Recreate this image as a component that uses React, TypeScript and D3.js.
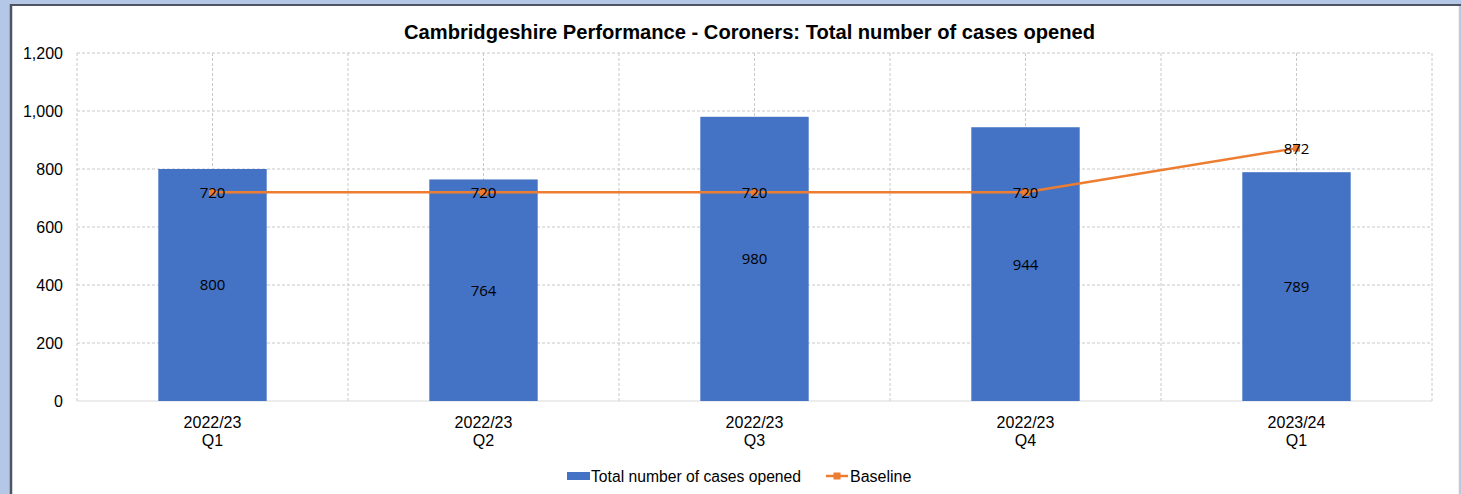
import React from "react";
import * as d3 from "d3";

const categories = ["2022/23|Q1", "2022/23|Q2", "2022/23|Q3", "2022/23|Q4", "2023/24|Q1"];
const casesOpened = [800, 764, 980, 944, 789];
const baseline = [720, 720, 720, 720, 872];
const yTicks = [0, 200, 400, 600, 800, 1000, 1200];

const W = 1461;
const H = 494;
const plot = { left: 77, right: 1432, top: 53, bottom: 401 };
const BLUE = "#4472C4";
const ORANGE = "#ED7D31";

export default function App() {
  const x = d3.scaleBand<string>().domain(categories).range([plot.left, plot.right]).paddingInner(0).paddingOuter(0);
  const y = d3.scaleLinear().domain([0, 1200]).range([plot.bottom, plot.top]);
  const bw = x.bandwidth();
  const barW = bw * 0.4;
  const cx = (c: string) => (x(c) as number) + bw / 2;
  const fmt = d3.format(",");
  const line = d3
    .line<number>()
    .x((_, i) => cx(categories[i]))
    .y((d) => y(d));

  const vLines: number[] = [];
  categories.forEach((c, i) => {
    if (i > 0) vLines.push(x(c) as number);
    vLines.push(cx(c));
  });
  vLines.push(plot.right);
  vLines.unshift(plot.left);

  const grid = "#c8c8c8";
  return (
    <svg
      width={W}
      height={H}
      style={{ position: "absolute", left: 0, top: 0, display: "block" }}
      fontFamily="'Liberation Sans', Arial, sans-serif"
    >
      <rect x={0} y={0} width={W} height={H} fill="#b4c7e7" />
      <rect x={11} y={5} width={W - 12} height={H} fill="#ffffff" />
      <line x1={11} y1={5} x2={W} y2={5} stroke="#4e5462" strokeWidth={2} />
      <line x1={11} y1={4} x2={11} y2={H} stroke="#4e5462" strokeWidth={2.5} />
      <line x1={1459.5} y1={6} x2={1459.5} y2={H} stroke="#c8c8c8" strokeWidth={1.5} />

      <text x={749.5} y={39} textAnchor="middle" fontSize={20} fontWeight="bold" fill="#000" textLength={691} lengthAdjust="spacingAndGlyphs">
        Cambridgeshire Performance - Coroners: Total number of cases opened
      </text>

      {yTicks.map((t) =>
        t === 0 ? null : (
          <line key={"h" + t} x1={plot.left} x2={plot.right} y1={y(t)} y2={y(t)} stroke={grid} strokeWidth={1} strokeDasharray="3,2" />
        )
      )}
      {vLines.map((vx, i) => (
        <line key={"v" + i} x1={vx} x2={vx} y1={plot.top} y2={plot.bottom} stroke={grid} strokeWidth={1} strokeDasharray="3,2" />
      ))}
      <line x1={plot.left} x2={plot.right} y1={y(0)} y2={y(0)} stroke="#d9d9d9" strokeWidth={1} />

      {yTicks.map((t) => (
        <text key={"yt" + t} x={63} y={y(t)} dy="0.35em" textAnchor="end" fontSize={16} fill="#000">
          {fmt(t)}
        </text>
      ))}

      {categories.map((c) => {
        const [a, b] = c.split("|");
        return (
          <g key={"xl" + c}>
            <text x={cx(c)} y={428} textAnchor="middle" fontSize={16} fill="#000">{a}</text>
            <text x={cx(c)} y={446} textAnchor="middle" fontSize={16} fill="#000">{b}</text>
          </g>
        );
      })}

      {casesOpened.map((v, i) => (
        <rect key={"b" + i} x={cx(categories[i]) - barW / 2} y={y(v)} width={barW} height={y(0) - y(v)} fill={BLUE} />
      ))}

      <path d={line(baseline) as string} fill="none" stroke={ORANGE} strokeWidth={2.5} strokeLinejoin="round" />
      {baseline.map((v, i) => (
        <rect key={"m" + i} x={cx(categories[i]) - 3.5} y={y(v) - 3.5} width={7} height={7} fill={ORANGE} />
      ))}

      {casesOpened.map((v, i) => (
        <text key={"bl" + i} x={cx(categories[i])} y={(y(v) + y(0)) / 2} dy="0.36em" textAnchor="middle" fontSize={15} fontFamily="'Open Sans', sans-serif" fill="#000">
          {v}
        </text>
      ))}
      {baseline.map((v, i) => (
        <text key={"ll" + i} x={cx(categories[i])} y={y(v)} dy="0.4em" textAnchor="middle" fontSize={15} fontFamily="'Open Sans', sans-serif" fill="#000">
          {v}
        </text>
      ))}

      <rect x={567} y={472} width={23} height={8} fill={BLUE} />
      <text x={591} y={482} fontSize={16} fill="#000" textLength={210} lengthAdjust="spacingAndGlyphs">Total number of cases opened</text>
      <line x1={826} x2={848} y1={476} y2={476} stroke={ORANGE} strokeWidth={2.5} />
      <rect x={833.5} y={472.5} width={7} height={7} fill={ORANGE} />
      <text x={850} y={482} fontSize={16} fill="#000">Baseline</text>
    </svg>
  );
}
